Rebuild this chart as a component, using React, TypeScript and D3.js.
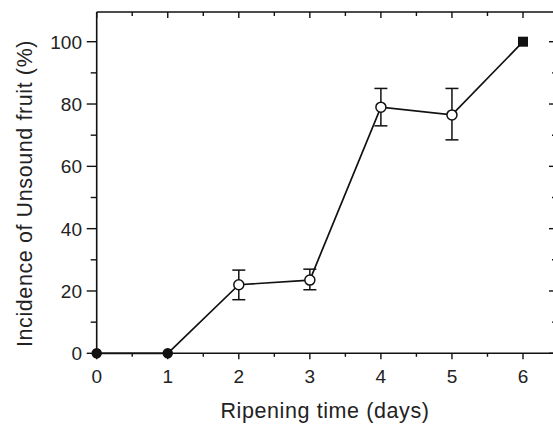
import React from "react";
import * as d3 from "d3";

const days = [0, 1, 2, 3, 4, 5, 6];
const incidence = [0, 0, 22, 23.5, 79, 76.5, 100];
const errLow = [0, 0, 17.2, 20.4, 73, 68.5, 100];
const errHigh = [0, 0, 26.7, 27, 85, 85, 100];
const markerKind = ["filled", "filled", "open", "open", "open", "open", "square"];
const xTicks = [0, 1, 2, 3, 4, 5, 6];
const xMinor = [0.5, 1.5, 2.5, 3.5, 4.5, 5.5];
const yTicks = [0, 20, 40, 60, 80, 100];
const yMinor = [10, 30, 50, 70, 90];

const W = 553;
const H = 424;
const left = 96.7;
const right = 555;
const top = 12;
const bottom = 353.3;

export default function App() {
  const x = d3.scaleLinear().domain([0, 6]).range([left, left + 6 * 71.05]);
  const y = d3.scaleLinear().domain([0, 100]).range([bottom, bottom - (bottom - 41.7)]);
  const line = d3
    .line<number>()
    .x((_, i) => x(days[i]))
    .y((d) => y(d));
  const font = "'Liberation Sans', Arial, sans-serif";
  const col = "#111";
  return (
    <svg
      width={W}
      height={H}
      style={{ position: "absolute", left: 0, top: 0, background: "#fff" }}
    >
      <rect x={0} y={0} width={W} height={H} fill="#fff" />
      {/* frame */}
      <line x1={left} x2={right} y1={top} y2={top} stroke={col} strokeWidth={1.6} />
      <line x1={left} x2={right} y1={bottom} y2={bottom} stroke={col} strokeWidth={1.6} />
      <line x1={left} x2={left} y1={top} y2={bottom} stroke={col} strokeWidth={1.6} />
      <line x1={right} x2={right} y1={top} y2={bottom} stroke={col} strokeWidth={1.6} />
      {/* x ticks */}
      {xTicks.map((t) => (
        <g key={"xt" + t}>
          <line x1={x(t)} x2={x(t)} y1={bottom} y2={bottom + 6} stroke={col} strokeWidth={1.4} />
          <line x1={x(t)} x2={x(t)} y1={top} y2={top + 6} stroke={col} strokeWidth={1.4} />
          <text
            x={x(t)}
            y={383}
            textAnchor="middle"
            fontFamily={font}
            fontSize={19}
            fill="#222"
          >
            {t}
          </text>
        </g>
      ))}
      {xMinor.map((t) => (
        <g key={"xm" + t}>
          <line x1={x(t)} x2={x(t)} y1={bottom} y2={bottom + 3.5} stroke={col} strokeWidth={1.4} />
          <line x1={x(t)} x2={x(t)} y1={top} y2={top + 4} stroke={col} strokeWidth={1.4} />
        </g>
      ))}
      {/* y ticks */}
      {yTicks.map((t) => (
        <g key={"yt" + t}>
          <line x1={left - 10} x2={left} y1={y(t)} y2={y(t)} stroke={col} strokeWidth={1.4} />
          <line x1={right - 6} x2={right} y1={y(t)} y2={y(t)} stroke={col} strokeWidth={1.4} />
          <text
            x={82}
            y={y(t) + 7}
            textAnchor="end"
            fontFamily={font}
            fontSize={19}
            fill="#222"
          >
            {t}
          </text>
        </g>
      ))}
      {yMinor.map((t) => (
        <g key={"ym" + t}>
          <line x1={left - 6} x2={left} y1={y(t)} y2={y(t)} stroke={col} strokeWidth={1.4} />
          <line x1={right - 3} x2={right} y1={y(t)} y2={y(t)} stroke={col} strokeWidth={1.4} />
        </g>
      ))}
      {/* axis labels */}
      <text
        x={325}
        y={418}
        textAnchor="middle"
        fontFamily={font}
        fontSize={21.5}
        letterSpacing={0.6}
        fill="#222"
      >
        Ripening time (days)
      </text>
      <text
        transform={`translate(32,193.5) rotate(-90)`}
        textAnchor="middle"
        fontFamily={font}
        fontSize={21.5}
        letterSpacing={0.6}
        fill="#222"
      >
        Incidence of Unsound fruit (%)
      </text>
      {/* data line */}
      <path d={line(incidence) || ""} fill="none" stroke={col} strokeWidth={1.7} />
      {/* error bars */}
      {days.map((d, i) =>
        markerKind[i] === "open" ? (
          <g key={"eb" + i} stroke={col} strokeWidth={1.5}>
            <line x1={x(d)} x2={x(d)} y1={y(errLow[i])} y2={y(errHigh[i])} />
            <line x1={x(d) - 6.5} x2={x(d) + 6.5} y1={y(errLow[i])} y2={y(errLow[i])} />
            <line x1={x(d) - 6.5} x2={x(d) + 6.5} y1={y(errHigh[i])} y2={y(errHigh[i])} />
          </g>
        ) : null
      )}
      {/* markers */}
      {days.map((d, i) => {
        const k = markerKind[i];
        if (k === "square")
          return (
            <rect
              key={"m" + i}
              x={x(d) - 5}
              y={y(incidence[i]) - 5}
              width={10}
              height={10}
              fill={col}
            />
          );
        return (
          <circle
            key={"m" + i}
            cx={x(d)}
            cy={y(incidence[i])}
            r={k === "filled" ? 4.5 : 5}
            fill={k === "filled" ? col : "#fff"}
            stroke={col}
            strokeWidth={1.5}
          />
        );
      })}
    </svg>
  );
}
